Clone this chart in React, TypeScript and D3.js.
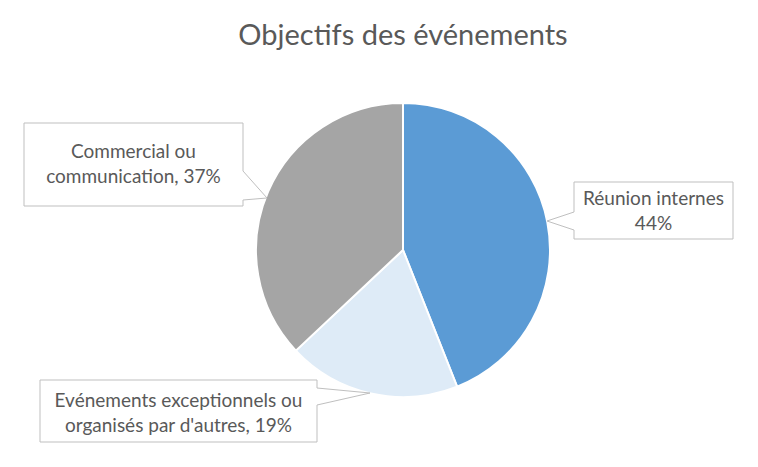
import { useMemo } from 'react'
import * as d3 from 'd3'

// slice order: clockwise from 12 o'clock
const categories = ['Réunion internes', 'Evénements exceptionnels ou organisés par d\'autres', 'Commercial ou communication']
const shares = [44, 19, 37]
const sliceColors = ['#5B9BD5', '#DEEBF7', '#A5A5A5']

// label text as shown in each callout, one entry per line
const labelLines = [
  ['Réunion internes', '44%'],
  ['Evénements exceptionnels ou', 'organisés par d\'autres, 19%'],
  ['Commercial ou', 'communication, 37%'],
]

// callout boxes: rect + pointer base on one side + tip
const callouts = [
  { x: 574, y: 182, w: 159, h: 57, side: 'left', b0: 212, b1: 230, tip: [547, 221], ty: 205 },
  { x: 40, y: 380, w: 277, h: 62, side: 'right', b0: 388, b1: 405, tip: [370, 393], ty: 407 },
  { x: 24, y: 123, w: 219, h: 83, side: 'right', b0: 171, b1: 200, tip: [267, 198], ty: 158 },
]

const W = 758
const H = 467
const cx = 403
const cy = 250
const R = 147
const FONT = 'Lato, "Open Sans", sans-serif'
const INK = '#595959'

function calloutPath(c: typeof callouts[0]) {
  const { x, y, w, h, b0, b1, tip } = c
  if (c.side === 'left') {
    return `M${x},${y} H${x + w} V${y + h} H${x} V${b1} L${tip[0]},${tip[1]} L${x},${b0} Z`
  }
  return `M${x},${y} H${x + w} V${b0} L${tip[0]},${tip[1]} L${x + w},${b1} V${y + h} H${x} Z`
}

export default function App() {
  const arcs = useMemo(() => {
    const pie = d3.pie<number>().sort(null).value(d => d)
    return pie(shares)
  }, [])
  const arc = d3.arc<d3.PieArcDatum<number>>().innerRadius(0).outerRadius(R)

  return (
    <svg width={W} height={H} style={{ position: 'absolute', left: 0, top: 0, background: '#fff' }}>
      <rect width={W} height={H} fill="#fff" />
      <text x={403} y={45} textAnchor="middle" fontFamily={FONT} fontSize={29} fill={INK}>
        Objectifs des événements
      </text>

      <g transform={`translate(${cx},${cy})`}>
        {arcs.map((a, i) => (
          <path key={categories[i]} d={arc(a) ?? ''} fill={sliceColors[i]} stroke="#fff" strokeWidth={2} />
        ))}
      </g>

      {callouts.map((c, i) => (
        <g key={i}>
          <path d={calloutPath(c)} fill="#fff" stroke="#BFBFBF" strokeWidth={1} />
          {labelLines[i].map((ln, j) => (
            <text key={j} x={c.x + c.w / 2} y={c.ty + j * 25} textAnchor="middle"
              fontFamily={FONT} fontSize={19} fill={INK}>
              {ln}
            </text>
          ))}
        </g>
      ))}
    </svg>
  )
}
